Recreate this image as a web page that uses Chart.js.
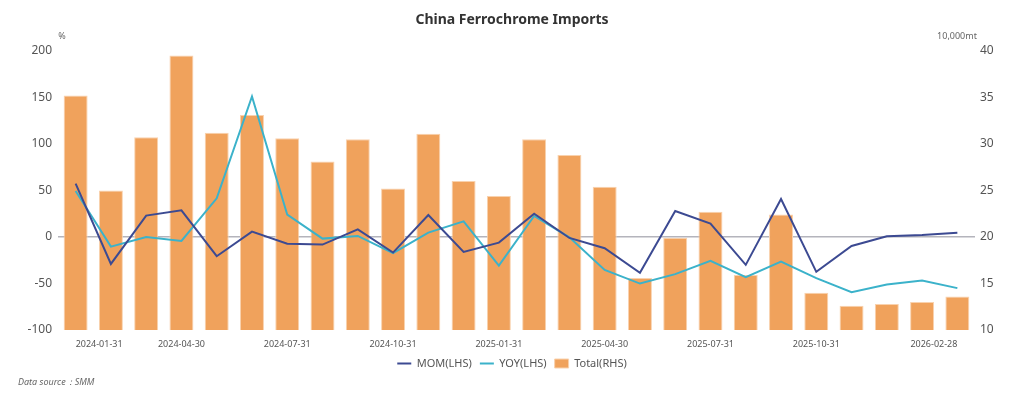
<!DOCTYPE html>
<html>
<head>
<meta charset="utf-8">
<script src="https://cdn.jsdelivr.net/npm/chart.js@4"></script>
<style>
  html, body { margin: 0; padding: 0; background: #fff; }
  canvas { display: block; }
</style>
</head>
<body>
<canvas id="chart" width="1024" height="399"></canvas>
<script>
const months = [
  "2024-01-31", "2024-02-29", "2024-03-31", "2024-04-30", "2024-05-31", "2024-06-30",
  "2024-07-31", "2024-08-31", "2024-09-30", "2024-10-31", "2024-11-30", "2024-12-31",
  "2025-01-31", "2025-02-28", "2025-03-31", "2025-04-30", "2025-05-31", "2025-06-30",
  "2025-07-31", "2025-08-31", "2025-09-30", "2025-10-31", "2025-11-30", "2025-12-31",
  "2026-01-31", "2026-02-28"
];
const shownLabels = ["2024-01-31", "2024-04-30", "2024-07-31", "2024-10-31", "2025-01-31",
  "2025-04-30", "2025-07-31", "2025-10-31", "2026-02-28"];

// 10,000mt
const total = [35.2, 25.0, 30.7, 39.5, 31.2, 33.1, 30.6, 28.1, 30.5, 25.2, 31.1, 26.0,
  24.4, 30.5, 28.8, 25.4, 15.6, 19.9, 22.7, 15.9, 22.4, 14.0, 12.6, 12.8, 13.0, 13.6];
// %
const mom = [57.2, -29, 22.9, 28.6, -20.7, 5.7, -7.2, -8.2, 8.2, -16.8, 23.6, -16.1,
  -6.1, 25, -1.1, -12.2, -38.6, 27.9, 14.3, -30, 40.8, -37.5, -9.7, 0.7, 2.1, 4.6];
const yoy = [49.3, -10.4, 0, -4.3, 41.5, 150.9, 23.9, -1.8, 1.1, -17.5, 4.6, 16.8,
  -30.8, 22.5, -0.4, -35.4, -50.1, -40, -25.7, -43.3, -26.5, -44.3, -59.3, -51.1, -46.9, -55];

const FONT = "'Noto Sans', 'Open Sans', sans-serif";
Chart.defaults.font.family = FONT;
Chart.defaults.color = "#555";

// unit labels and source note
const extraText = {
  id: "extraText",
  afterDraw(chart) {
    const c = chart.ctx;
    const area = chart.chartArea;
    c.save();
    c.fillStyle = "#666";
    c.font = "9px " + FONT;
    c.textAlign = "center";
    c.textBaseline = "middle";
    c.fillText("%", 62, area.top - 14);
    c.fillText("10,000mt", area.right - 18, area.top - 14);
    c.font = "italic 9px " + FONT;
    c.textAlign = "left";
    c.fillText("Data source：SMM", 18, chart.height - 17);
    c.restore();
  }
};

const ctx = document.getElementById("chart").getContext("2d");
const chart = new Chart(ctx, {
  type: "bar",
  data: {
    labels: months,
    datasets: [
      {
        type: "line",
        label: "MOM(LHS)",
        data: mom,
        yAxisID: "y",
        borderColor: "#3C4A92",
        backgroundColor: "#3C4A92",
        borderWidth: 2,
        pointRadius: 0,
        pointStyle: "line",
        tension: 0
      },
      {
        type: "line",
        label: "YOY(LHS)",
        data: yoy,
        yAxisID: "y",
        borderColor: "#3BB2CA",
        backgroundColor: "#3BB2CA",
        borderWidth: 2,
        pointRadius: 0,
        pointStyle: "line",
        tension: 0
      },
      {
        label: "Total(RHS)",
        data: total,
        yAxisID: "y1",
        backgroundColor: "#F0A25C",
        borderColor: "#F9D2AE",
        borderWidth: 1,
        pointStyle: "rect",
        barPercentage: 0.68,
        categoryPercentage: 1
      }
    ]
  },
  options: {
    responsive: false,
    animation: false,
    devicePixelRatio: 1,
    layout: { padding: { bottom: 20 } },
    plugins: {
      title: {
        display: true,
        text: "China Ferrochrome Imports",
        color: "#333",
        font: { size: 14, weight: "bold" },
        padding: { top: 12, bottom: 22 }
      },
      legend: {
        position: "bottom",
        labels: {
          usePointStyle: true,
          pointStyleWidth: 14,
          boxHeight: 9,
          padding: 8,
          color: "#555",
          font: { size: 11 }
        }
      },
      tooltip: { enabled: false }
    },
    scales: {
      x: {
        grid: { display: false },
        border: { display: false },
        ticks: {
          autoSkip: false,
          maxRotation: 0,
          align: "inner",
          color: "#555",
          font: { size: 9 },
          padding: 1,
          callback: function (val) {
            const lab = this.getLabelForValue(val);
            return shownLabels.includes(lab) ? lab : "";
          }
        },
        afterFit: s => { s.height = 20; }
      },
      y: {
        position: "left",
        min: -100,
        max: 200,
        border: { display: false },
        grid: {
          drawTicks: false,
          color: c => c.tick.value === 0 ? "#B4B4BC" : "transparent",
          lineWidth: 1.5
        },
        ticks: { stepSize: 50, padding: 6, color: "#555", font: { size: 12 } },
        afterFit: s => { s.width = 58; }
      },
      y1: {
        position: "right",
        min: 10,
        max: 40,
        border: { display: false },
        grid: { display: false, drawTicks: false },
        ticks: { stepSize: 5, padding: 5, color: "#555", font: { size: 12 } },
        afterFit: s => { s.width = 49; }
      }
    }
  },
  plugins: [extraText]
});
</script>
</body>
</html>
